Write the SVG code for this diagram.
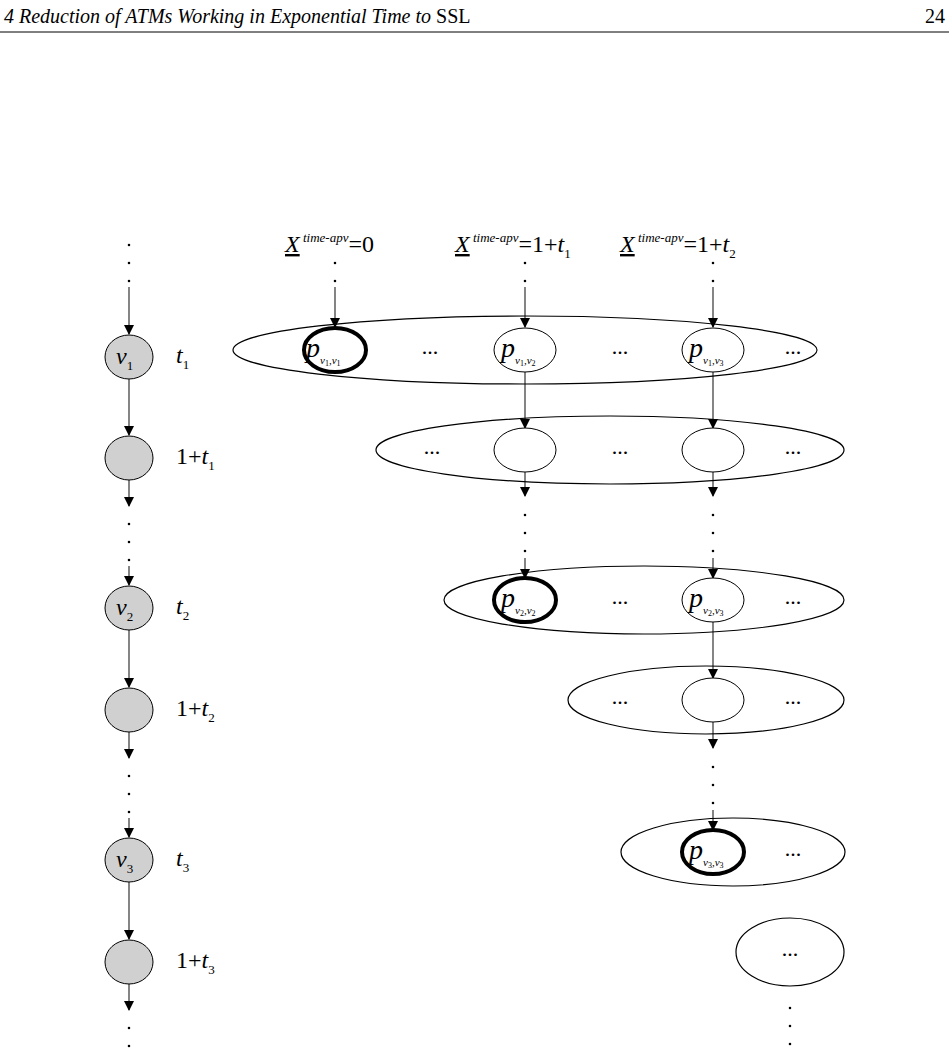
<svg xmlns="http://www.w3.org/2000/svg" width="949" height="1052" viewBox="0 0 949 1052">
<style>
text{font-family:"Liberation Serif",serif;fill:#000}
.g{fill:#d0d0d0;stroke:#000;stroke-width:1}
.w{fill:#fff;stroke:#000;stroke-width:1}
.b{fill:#fff;stroke:#000;stroke-width:4}
.big{fill:none;stroke:#000;stroke-width:1.2}
.ln{stroke:#333;stroke-width:1.2;fill:none}
.dt{stroke:#000;stroke-width:2.6;stroke-dasharray:0 18;stroke-linecap:round;fill:none}
.lb{font-size:24px}
.sub{font-size:13px}
.it{font-style:italic}
.dd{font-size:22px;text-anchor:middle}
.p{font-size:28px;font-style:italic}
.ps{font-size:11px;font-style:italic}
.pn{font-size:8px;font-style:normal}
</style>
<defs><marker id="a" markerWidth="10" markerHeight="10" refX="9" refY="5" orient="auto" markerUnits="userSpaceOnUse"><path d="M0,0 L10,5 L0,10 Z" fill="#000"/></marker></defs>
<g id="header">
<text x="4" y="23" font-size="20" class="it">4  Reduction of ATMs Working in Exponential Time to <tspan font-style="normal">SSL</tspan></text>
<text x="945" y="23" font-size="20" text-anchor="end">24</text>
<line x1="0" y1="32" x2="949" y2="32" stroke="#000" stroke-width="1"/>
</g>
<g id="connectors">
<line class="dt" x1="129" y1="245" x2="129" y2="282"/>
<line class="ln" x1="129" y1="287" x2="129" y2="334" marker-end="url(#a)"/>
<line class="ln" x1="129" y1="379" x2="129" y2="435" marker-end="url(#a)"/>
<line class="ln" x1="129" y1="480" x2="129" y2="506" marker-end="url(#a)"/>
<line class="dt" x1="129" y1="524" x2="129" y2="561"/>
<line class="ln" x1="129" y1="566" x2="129" y2="585" marker-end="url(#a)"/>
<line class="ln" x1="129" y1="630" x2="129" y2="687" marker-end="url(#a)"/>
<line class="ln" x1="129" y1="732" x2="129" y2="758" marker-end="url(#a)"/>
<line class="dt" x1="129" y1="776" x2="129" y2="813"/>
<line class="ln" x1="129" y1="818" x2="129" y2="837" marker-end="url(#a)"/>
<line class="ln" x1="129" y1="882" x2="129" y2="939" marker-end="url(#a)"/>
<line class="ln" x1="129" y1="984" x2="129" y2="1010" marker-end="url(#a)"/>
<line class="dt" x1="129" y1="1028" x2="129" y2="1050"/>
<line class="dt" x1="335" y1="263" x2="335" y2="282"/>
<line class="ln" x1="335" y1="287" x2="335" y2="327" marker-end="url(#a)"/>
<line class="dt" x1="525" y1="263" x2="525" y2="282"/>
<line class="ln" x1="525" y1="287" x2="525" y2="327" marker-end="url(#a)"/>
<line class="dt" x1="713" y1="263" x2="713" y2="282"/>
<line class="ln" x1="713" y1="287" x2="713" y2="327" marker-end="url(#a)"/>
<line class="ln" x1="525" y1="372" x2="525" y2="428" marker-end="url(#a)"/>
<line class="ln" x1="713" y1="372" x2="713" y2="428" marker-end="url(#a)"/>
<line class="ln" x1="525" y1="472" x2="525" y2="496" marker-end="url(#a)"/>
<line class="dt" x1="525" y1="515" x2="525" y2="552"/>
<line class="ln" x1="525" y1="558" x2="525" y2="578" marker-end="url(#a)"/>
<line class="ln" x1="713" y1="472" x2="713" y2="496" marker-end="url(#a)"/>
<line class="dt" x1="713" y1="515" x2="713" y2="552"/>
<line class="ln" x1="713" y1="558" x2="713" y2="578" marker-end="url(#a)"/>
<line class="ln" x1="713" y1="622" x2="713" y2="678" marker-end="url(#a)"/>
<line class="ln" x1="713" y1="722" x2="713" y2="748" marker-end="url(#a)"/>
<line class="dt" x1="713" y1="767" x2="713" y2="804"/>
<line class="ln" x1="713" y1="810" x2="713" y2="830" marker-end="url(#a)"/>
<line class="dt" x1="790" y1="1008" x2="790" y2="1045"/>
</g>
<g id="top-labels">
<text x="285" y="252" class="lb"><tspan class="it" text-decoration="underline">X</tspan><tspan class="it sub" dy="-10"> time-apv</tspan><tspan dy="10">=0</tspan></text>
<text x="455" y="252" class="lb"><tspan class="it" text-decoration="underline">X</tspan><tspan class="it sub" dy="-10"> time-apv</tspan><tspan dy="10">=1+</tspan><tspan class="it">t</tspan><tspan class="sub" dy="6">1</tspan></text>
<text x="620" y="252" class="lb"><tspan class="it" text-decoration="underline">X</tspan><tspan class="it sub" dy="-10"> time-apv</tspan><tspan dy="10">=1+</tspan><tspan class="it">t</tspan><tspan class="sub" dy="6">2</tspan></text>
</g>
<g id="left-nodes">
<g id="v1"><ellipse class="g" cx="129" cy="357" rx="24" ry="22"/><text x="116" y="364" class="lb it" font-size="26">v<tspan class="sub" dy="6" font-style="normal">1</tspan></text><text x="176" y="363" class="lb it">t<tspan class="sub" dy="6" font-style="normal">1</tspan></text></g>
<g id="n1t1"><ellipse class="g" cx="129" cy="458" rx="24" ry="22"/><text x="176" y="464" class="lb">1+<tspan class="it">t</tspan><tspan class="sub" dy="6">1</tspan></text></g>
<g id="v2"><ellipse class="g" cx="129" cy="608" rx="24" ry="22"/><text x="116" y="615" class="lb it" font-size="26">v<tspan class="sub" dy="6" font-style="normal">2</tspan></text><text x="176" y="614" class="lb it">t<tspan class="sub" dy="6" font-style="normal">2</tspan></text></g>
<g id="n1t2"><ellipse class="g" cx="129" cy="710" rx="24" ry="22"/><text x="176" y="716" class="lb">1+<tspan class="it">t</tspan><tspan class="sub" dy="6">2</tspan></text></g>
<g id="v3"><ellipse class="g" cx="129" cy="860" rx="24" ry="22"/><text x="116" y="867" class="lb it" font-size="26">v<tspan class="sub" dy="6" font-style="normal">3</tspan></text><text x="176" y="866" class="lb it">t<tspan class="sub" dy="6" font-style="normal">3</tspan></text></g>
<g id="n1t3"><ellipse class="g" cx="129" cy="962" rx="24" ry="22"/><text x="176" y="968" class="lb">1+<tspan class="it">t</tspan><tspan class="sub" dy="6">3</tspan></text></g>
</g>
<g id="row1"><ellipse class="big" cx="525" cy="350" rx="292" ry="34"/>
<ellipse class="b" cx="335" cy="350" rx="31" ry="22"/><text x="306" y="357" class="p">p<tspan class="ps" dy="7">v<tspan class="pn" dy="2">1</tspan><tspan dy="-2">,v</tspan><tspan class="pn" dy="2">1</tspan></tspan></text>
<ellipse class="w" cx="525" cy="350" rx="31" ry="22"/><text x="501" y="357" class="p">p<tspan class="ps" dy="7">v<tspan class="pn" dy="2">1</tspan><tspan dy="-2">,v</tspan><tspan class="pn" dy="2">2</tspan></tspan></text>
<ellipse class="w" cx="713" cy="350" rx="31" ry="22"/><text x="689" y="357" class="p">p<tspan class="ps" dy="7">v<tspan class="pn" dy="2">1</tspan><tspan dy="-2">,v</tspan><tspan class="pn" dy="2">3</tspan></tspan></text>
<text x="430" y="354" class="dd">...</text><text x="620" y="354" class="dd">...</text><text x="793" y="354" class="dd">...</text></g>
<g id="row2"><ellipse class="big" cx="610" cy="450" rx="234" ry="34"/>
<ellipse class="w" cx="525" cy="450" rx="31" ry="22"/><ellipse class="w" cx="713" cy="450" rx="31" ry="22"/>
<text x="432" y="454" class="dd">...</text><text x="620" y="454" class="dd">...</text><text x="793" y="454" class="dd">...</text></g>
<g id="row3"><ellipse class="big" cx="644" cy="600" rx="200" ry="34"/>
<ellipse class="b" cx="525" cy="600" rx="31" ry="22"/><text x="501" y="607" class="p">p<tspan class="ps" dy="7">v<tspan class="pn" dy="2">2</tspan><tspan dy="-2">,v</tspan><tspan class="pn" dy="2">2</tspan></tspan></text>
<ellipse class="w" cx="713" cy="600" rx="31" ry="22"/><text x="689" y="607" class="p">p<tspan class="ps" dy="7">v<tspan class="pn" dy="2">2</tspan><tspan dy="-2">,v</tspan><tspan class="pn" dy="2">3</tspan></tspan></text>
<text x="620" y="604" class="dd">...</text><text x="793" y="604" class="dd">...</text></g>
<g id="row4"><ellipse class="big" cx="706" cy="700" rx="138" ry="34"/>
<ellipse class="w" cx="713" cy="700" rx="31" ry="22"/>
<text x="620" y="704" class="dd">...</text><text x="793" y="704" class="dd">...</text></g>
<g id="row5"><ellipse class="big" cx="733" cy="852" rx="112" ry="34"/>
<ellipse class="b" cx="713" cy="852" rx="31" ry="22"/><text x="689" y="859" class="p">p<tspan class="ps" dy="7">v<tspan class="pn" dy="2">3</tspan><tspan dy="-2">,v</tspan><tspan class="pn" dy="2">3</tspan></tspan></text>
<text x="793" y="856" class="dd">...</text></g>
<g id="row6"><ellipse class="big" cx="790" cy="952" rx="54" ry="34"/><text x="790" y="956" class="dd">...</text></g>
</svg>
